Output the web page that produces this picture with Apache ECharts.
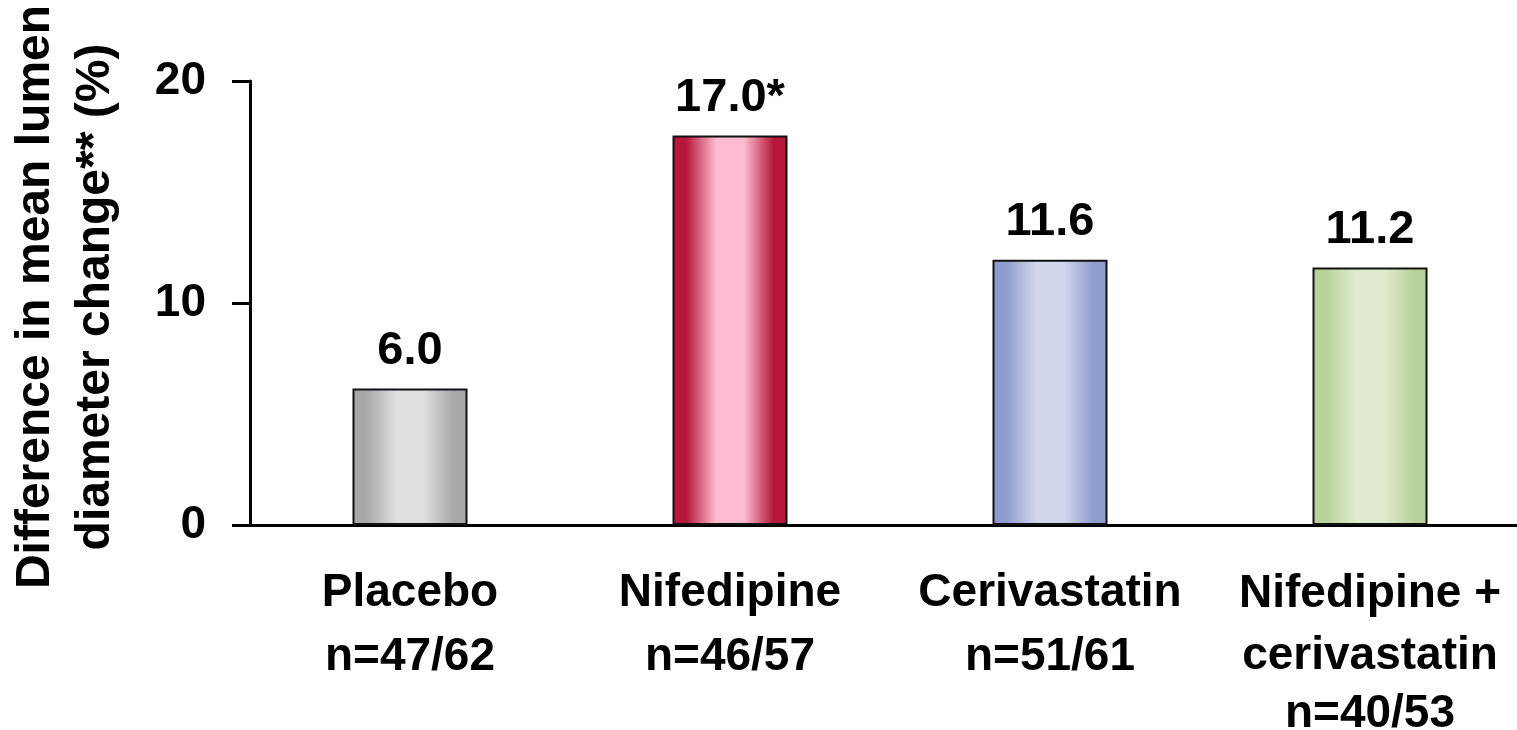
<!DOCTYPE html>
<html>
<head>
<meta charset="utf-8">
<script src="https://cdn.jsdelivr.net/npm/echarts@6/dist/echarts.min.js"></script>
<style>
html,body{margin:0;padding:0;background:#fff;}
#chart{width:1517px;height:730px;}
</style>
</head>
<body>
<div id="chart"></div>
<script>
// ---- data ----
var categories = ['Placebo\nn=47/62', 'Nifedipine\nn=46/57', 'Cerivastatin\nn=51/61', 'Nifedipine +\ncerivastatin\nn=40/53'];
var barValues = [6.15, 17.55, 11.95, 11.6];
var valueLabels = ['6.0', '17.0*', '11.6', '11.2'];
var yTicks = [0, 10, 20];
var yTitleLines = ['Difference in mean lumen', 'diameter change** (%)'];
var barEdgeColors = ['#a7a8ac', '#b5183a', '#8e9bcd', '#b8d39a'];
var barMidColors = ['#dedfe2', '#ffbcd0', '#d2d7eb', '#e0eacf'];

var FONT = '"Liberation Sans", Arial, Helvetica, sans-serif';

function grad(i) {
  var e = barEdgeColors[i], m = barMidColors[i];
  return new echarts.graphic.LinearGradient(0, 0, 1, 0, [
    {offset: 0, color: e},
    {offset: 0.12, color: e},
    {offset: 0.38, color: m},
    {offset: 0.62, color: m},
    {offset: 0.88, color: e},
    {offset: 1, color: e}
  ]);
}

var labelFont = {color: '#000', fontFamily: FONT, fontWeight: 'bold', fontSize: 46};

var chart = echarts.init(document.getElementById('chart'), null, {renderer: 'canvas'});
var option = {
  backgroundColor: '#ffffff',
  animation: false,
  grid: {left: 250, top: 81, width: 1280, height: 444, containLabel: false, outerBoundsMode: 'none'},
  xAxis: {
    type: 'category',
    data: categories,
    boundaryGap: true,
    axisLine: {show: true, lineStyle: {color: '#000', width: 3}},
    axisTick: {show: false},
    axisLabel: {
      interval: 0,
      margin: 36,
      color: '#000',
      fontFamily: FONT,
      fontWeight: 'bold',
      fontSize: 46,
      lineHeight: 64,
      align: 'center',
      formatter: function (value) {
        var lines = value.split('\n');
        if (lines.length === 3) {
          return '{a|' + lines[0] + '}\n{b|' + lines[1] + '}\n{b|' + lines[2] + '}';
        }
        return lines.map(function (l) { return '{n|' + l + '}'; }).join('\n');
      },
      rich: {
        n: Object.assign({lineHeight: 64}, labelFont),
        a: Object.assign({lineHeight: 66}, labelFont),
        b: Object.assign({lineHeight: 58}, labelFont)
      }
    },
    splitLine: {show: false}
  },
  yAxis: {
    type: 'value',
    min: yTicks[0],
    max: yTicks[yTicks.length - 1],
    interval: 10,
    axisLine: {show: true, lineStyle: {color: '#000', width: 3}},
    axisTick: {show: true, length: 18, lineStyle: {color: '#000', width: 3}},
    axisLabel: {
      margin: 44,
      color: '#000',
      fontFamily: FONT,
      fontWeight: 'bold',
      fontSize: 46
    },
    splitLine: {show: false}
  },
  graphic: [{
    type: 'text',
    x: 66,
    y: 297,
    rotation: Math.PI / 2,
    style: {
      text: yTitleLines.join('\n'),
      fill: '#000',
      font: 'bold 48px ' + FONT,
      lineHeight: 60,
      align: 'center',
      verticalAlign: 'middle'
    }
  }],
  series: [{
    type: 'bar',
    barWidth: 115,
    data: barValues.map(function (v, i) {
      return {
        value: v,
        itemStyle: {color: grad(i), borderColor: '#111', borderWidth: 2}
      };
    }),
    label: {
      show: true,
      position: 'top',
      distance: 14,
      color: '#000',
      fontFamily: FONT,
      fontWeight: 'bold',
      fontSize: 47,
      formatter: function (p) { return valueLabels[p.dataIndex]; }
    }
  }]
};
chart.setOption(option);
</script>
</body>
</html>
